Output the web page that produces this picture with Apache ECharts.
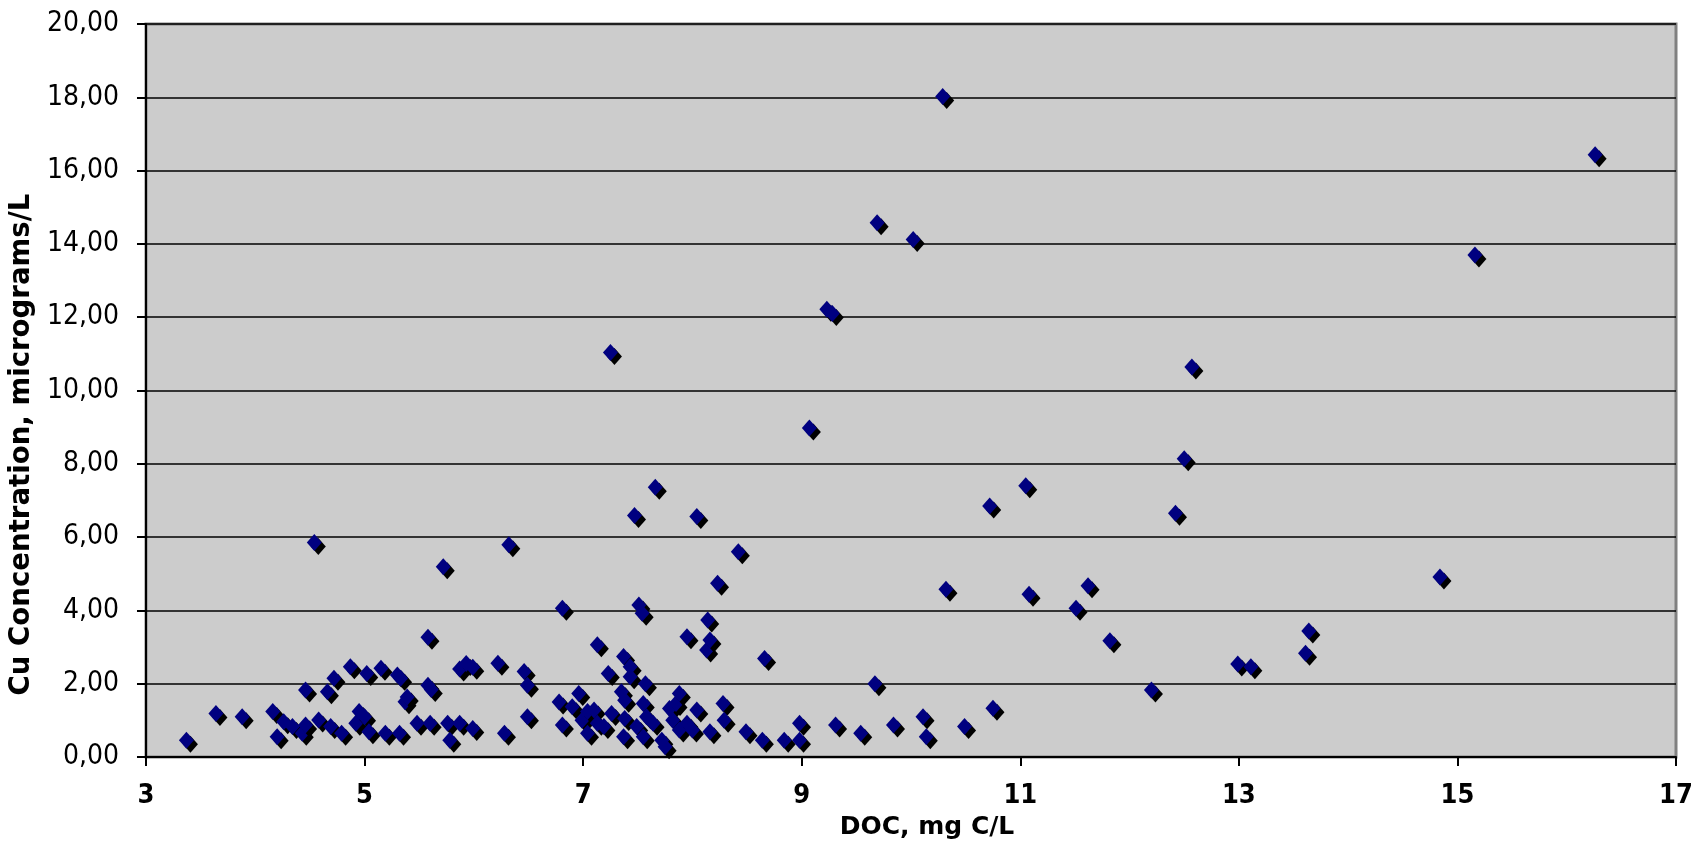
<!DOCTYPE html>
<html>
<head>
<meta charset="utf-8">
<script src="https://cdn.jsdelivr.net/npm/echarts@6/dist/echarts.min.js"></script>
<style>
html,body{margin:0;padding:0;background:#fff;}
#chart{width:1705px;height:848px;}
</style>
</head>
<body>
<div id="chart"></div>
<script>
// DOC (mg C/L)
const docValues = [
3.37,3.64,3.88,4.16,4.20,4.26,4.34,4.43,4.46,4.46,4.54,4.58,4.66,4.69,4.72,4.79,4.87,4.92,4.95,5.00,
5.02,5.04,5.15,5.19,5.30,5.33,5.32,5.37,5.39,5.48,5.58,5.58,5.61,5.60,5.72,5.76,5.78,5.87,5.87,5.93,
5.99,5.99,6.22,6.28,6.32,6.46,6.49,6.49,6.78,6.81,6.81,6.90,6.96,6.99,7.04,7.04,7.10,7.13,7.13,7.19,
7.23,7.25,7.26,7.35,7.37,7.37,7.38,7.38,7.43,7.43,7.47,7.49,7.51,7.54,7.55,7.55,7.57,7.58,7.64,7.66,
7.72,7.75,7.79,7.82,7.85,7.88,7.88,7.95,7.95,8.00,8.04,8.04,8.14,8.13,8.16,8.16,8.23,8.28,8.29,8.42,
8.49,8.64,8.66,8.84,8.98,8.98,9.07,9.23,9.28,9.31,9.54,9.67,9.69,9.84,10.02,10.11,10.14,10.29,10.32,10.49,
10.72,10.75,11.05,11.08,11.51,11.62,11.82,12.20,12.42,12.50,12.57,12.99,13.11,13.61,13.64,14.84,15.16,16.26
];
// Cu concentration (micrograms/L)
const cuValues = [
0.46,1.19,1.10,1.24,0.55,0.96,0.83,0.65,0.87,1.83,5.85,1.01,1.78,0.83,2.15,0.65,2.46,0.92,1.24,1.10,
2.28,0.69,2.42,0.65,2.24,2.15,0.65,1.51,1.64,0.92,3.27,1.96,1.84,0.92,5.19,0.92,0.46,0.92,2.40,2.55,
2.45,0.78,2.56,0.65,5.79,2.33,1.96,1.10,1.50,0.87,4.06,1.37,1.73,1.00,1.24,0.65,1.28,0.92,3.06,0.83,
2.28,11.04,1.19,1.78,2.74,0.55,1.55,1.05,2.46,2.19,6.59,0.83,4.15,3.92,1.46,0.55,2.00,1.10,0.92,7.36,
0.46,0.28,1.32,1.00,1.46,1.73,0.74,0.92,3.28,0.74,1.28,6.56,3.74,2.92,3.19,0.69,4.74,1.46,1.00,5.60,
0.69,0.46,2.69,0.46,0.92,0.46,8.98,12.22,12.10,0.87,0.65,2.00,14.58,0.87,14.12,1.10,0.55,18.02,4.58,0.83,
6.85,1.33,7.40,4.44,4.06,4.67,3.17,1.83,6.65,8.14,10.64,2.54,2.46,2.83,3.44,4.91,13.70,16.43
];
const xTitle = 'DOC, mg C/L';
const yTitle = 'Cu Concentration, micrograms/L';

const points = docValues.map((d, i) => [d, cuValues[i]]);

const chart = echarts.init(document.getElementById('chart'), null, {renderer: 'canvas'});
chart.setOption({
  animation: false,
  backgroundColor: '#ffffff',
  grid: {
    left: 136, right: 29, top: 24, bottom: 91,
    show: true,
    backgroundColor: '#cccccc',
    borderColor: '#808080',
    borderWidth: 3
  },
  xAxis: {
    type: 'value',
    min: 3, max: 17, interval: 2,
    name: xTitle,
    nameLocation: 'middle',
    nameGap: 58,
    nameTextStyle: {
      fontFamily: 'DejaVu Sans', fontWeight: 'bold', fontSize: 25, color: '#000',
      padding: [0, 0, 0, 32]
    },
    axisLine: {show: true, onZero: false, lineStyle: {color: '#000', width: 2}},
    axisTick: {show: true, inside: false, length: 9, lineStyle: {color: '#000', width: 2}},
    axisLabel: {
      margin: 25,
      fontFamily: 'DejaVu Sans Condensed, DejaVu Sans', fontWeight: 'bold', fontSize: 27, color: '#000'
    },
    splitLine: {show: false}
  },
  yAxis: {
    type: 'value',
    min: 0, max: 20, interval: 2,
    name: yTitle,
    nameLocation: 'middle',
    nameRotate: 90,
    nameGap: 84,
    nameTextStyle: {
      fontFamily: 'DejaVu Sans', fontWeight: 'bold', fontSize: 27.6, color: '#000',
      padding: [0, 108, 0, 0]
    },
    axisLine: {show: true, lineStyle: {color: '#000', width: 2}},
    axisTick: {show: true, inside: false, length: 9, lineStyle: {color: '#000', width: 2}},
    axisLabel: {
      margin: 27,
      fontFamily: 'DejaVu Sans Condensed, DejaVu Sans', fontSize: 28, color: '#000',
      formatter: v => v.toFixed(2).replace('.', ',')
    },
    splitLine: {show: true, lineStyle: {color: '#000', width: 1.5}}
  },
  series: [{
    type: 'scatter',
    data: points,
    symbol: 'diamond',
    symbolSize: [15, 17],
    itemStyle: {
      color: '#000080',
      opacity: 1,
      shadowColor: '#000000',
      shadowBlur: 0,
      shadowOffsetX: 4,
      shadowOffsetY: 4
    }
  }]
});
</script>
</body>
</html>
